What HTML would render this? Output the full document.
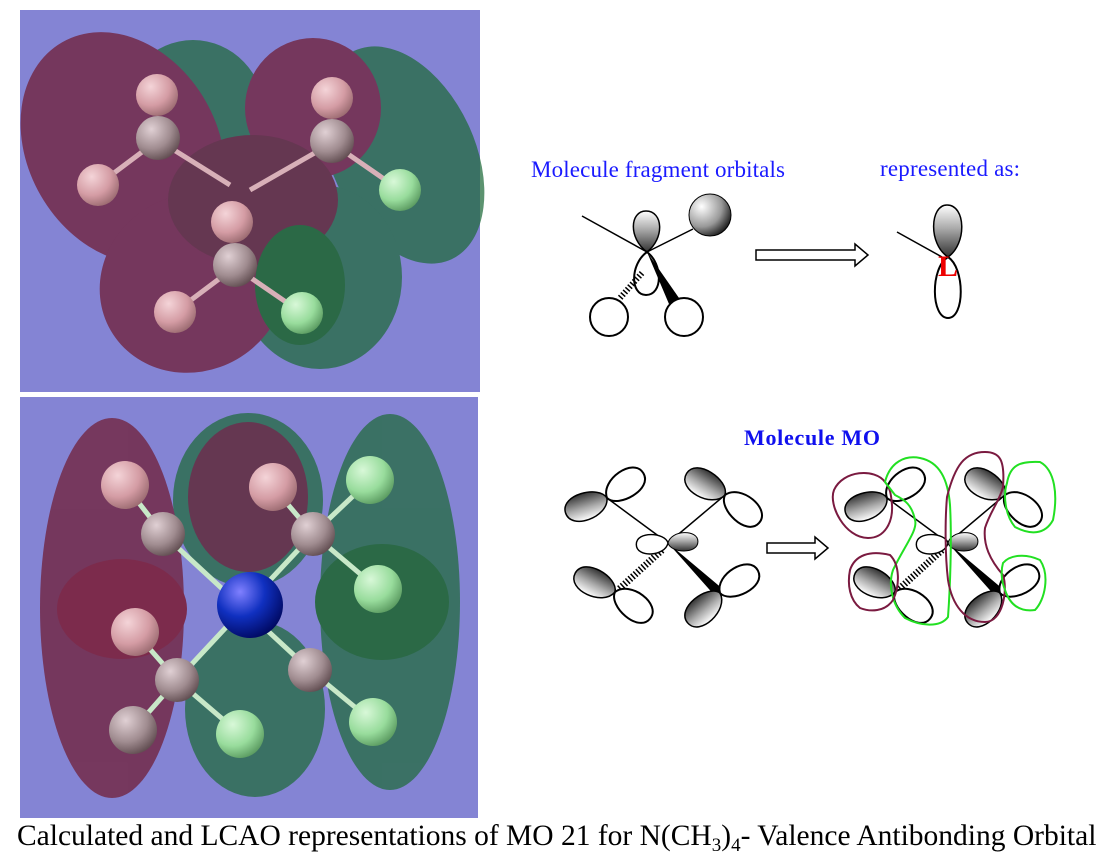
<!DOCTYPE html>
<html><head><meta charset="utf-8"><style>
html,body{margin:0;padding:0;background:#fff;}
svg{display:block;}
</style></head><body>
<svg width="1115" height="863" viewBox="0 0 1115 863" xmlns="http://www.w3.org/2000/svg">
<defs>
<radialGradient id="hp" cx="0.35" cy="0.3" r="0.75"><stop offset="0" stop-color="#f4d4d8"/><stop offset="0.6" stop-color="#d49ca4"/><stop offset="1" stop-color="#9a6a70"/></radialGradient>
<radialGradient id="hg" cx="0.35" cy="0.3" r="0.75"><stop offset="0" stop-color="#d8f8d8"/><stop offset="0.6" stop-color="#98dc9c"/><stop offset="1" stop-color="#5a9a60"/></radialGradient>
<radialGradient id="cg" cx="0.35" cy="0.3" r="0.75"><stop offset="0" stop-color="#e0d0d4"/><stop offset="0.6" stop-color="#a08c90"/><stop offset="1" stop-color="#604c50"/></radialGradient>
<radialGradient id="ng" cx="0.35" cy="0.3" r="0.75"><stop offset="0" stop-color="#8080ff"/><stop offset="0.5" stop-color="#1030c0"/><stop offset="1" stop-color="#000860"/></radialGradient>
<radialGradient id="sph" cx="0.3" cy="0.3" r="0.8"><stop offset="0" stop-color="#fff"/><stop offset="0.6" stop-color="#999"/><stop offset="1" stop-color="#111"/></radialGradient>
<linearGradient id="lob" x1="0" y1="0" x2="0" y2="1"><stop offset="0" stop-color="#fff"/><stop offset="0.45" stop-color="#aaa"/><stop offset="1" stop-color="#333"/></linearGradient>
<path id="sl" d="M0,0 C4,-19 44,-21 44,-2 C44,17 4,15 0,0Z" fill="url(#lob)" stroke="#000" stroke-width="1.5"/>
<path id="ol" d="M0,0 C4,-19 44,-21 44,-2 C44,17 4,15 0,0Z" fill="#fff" stroke="#000" stroke-width="2"/>
</defs>
<rect width="1115" height="863" fill="#fff"/>
<!-- top panel -->
<rect x="20" y="10" width="460" height="382" fill="#8484d4"/>
<g opacity="0.72">
<ellipse cx="193" cy="115" rx="72" ry="75" fill="#1e6a3a"/>
<ellipse cx="403" cy="155" rx="72" ry="115" transform="rotate(-25 403 155)" fill="#1e6a3a"/>
<ellipse cx="320" cy="277" rx="82" ry="92" fill="#1e6a3a"/>
<ellipse cx="123" cy="148" rx="95" ry="122" transform="rotate(-30 123 148)" fill="#701a30"/>
<ellipse cx="313" cy="108" rx="68" ry="70" fill="#701a30"/>
<ellipse cx="193" cy="283" rx="95" ry="88" transform="rotate(-30 193 283)" fill="#701a30"/>
<ellipse cx="253" cy="200" rx="85" ry="65" fill="#5a1a20"/>
<ellipse cx="300" cy="285" rx="45" ry="60" fill="#0a6010"/>
</g>
<g stroke="#d8b0b8" stroke-width="5">
<line x1="158" y1="140" x2="98" y2="185"/><line x1="332" y1="143" x2="250" y2="190"/><line x1="235" y1="267" x2="175" y2="312"/><line x1="235" y1="267" x2="302" y2="313"/><line x1="332" y1="143" x2="400" y2="190"/><line x1="158" y1="140" x2="230" y2="185"/>
</g>
<circle cx="158" cy="138" r="22" fill="url(#cg)"/><circle cx="332" cy="141" r="22" fill="url(#cg)"/><circle cx="235" cy="265" r="22" fill="url(#cg)"/>
<circle cx="157" cy="95" r="21" fill="url(#hp)"/><circle cx="98" cy="185" r="21" fill="url(#hp)"/><circle cx="332" cy="98" r="21" fill="url(#hp)"/><circle cx="232" cy="222" r="21" fill="url(#hp)"/><circle cx="175" cy="312" r="21" fill="url(#hp)"/>
<circle cx="400" cy="190" r="21" fill="url(#hg)"/><circle cx="302" cy="313" r="21" fill="url(#hg)"/>
<!-- bottom panel -->
<rect x="20" y="397" width="458" height="421" fill="#8484d4"/>
<g opacity="0.72">
<ellipse cx="248" cy="500" rx="75" ry="87" fill="#1e6a3a"/>
<ellipse cx="390" cy="602" rx="70" ry="188" fill="#1e6a3a"/>
<ellipse cx="255" cy="709" rx="70" ry="88" fill="#1e6a3a"/>
<ellipse cx="382" cy="602" rx="67" ry="58" fill="#0a6010"/>
<ellipse cx="112" cy="608" rx="72" ry="190" fill="#701a30"/>
<ellipse cx="248" cy="497" rx="60" ry="75" fill="#5a1a20"/>
<ellipse cx="122" cy="609" rx="65" ry="50" fill="#7a0a18"/>
</g>
<g stroke="#c8e8c8" stroke-width="5">
<line x1="163" y1="534" x2="125" y2="485"/><line x1="313" y1="534" x2="273" y2="487"/><line x1="313" y1="534" x2="370" y2="480"/><line x1="313" y1="534" x2="378" y2="589"/><line x1="177" y1="680" x2="135" y2="632"/><line x1="177" y1="680" x2="133" y2="730"/><line x1="177" y1="680" x2="240" y2="734"/><line x1="310" y1="670" x2="373" y2="722"/><line x1="163" y1="534" x2="310" y2="670"/><line x1="313" y1="534" x2="177" y2="680"/>
</g>
<circle cx="163" cy="534" r="22" fill="url(#cg)"/><circle cx="313" cy="534" r="22" fill="url(#cg)"/><circle cx="177" cy="680" r="22" fill="url(#cg)"/><circle cx="310" cy="670" r="22" fill="url(#cg)"/>
<circle cx="250" cy="605" r="33" fill="url(#ng)"/>
<circle cx="125" cy="485" r="24" fill="url(#hp)"/><circle cx="273" cy="487" r="24" fill="url(#hp)"/><circle cx="135" cy="632" r="24" fill="url(#hp)"/><circle cx="133" cy="730" r="24" fill="url(#cg)"/>
<circle cx="370" cy="480" r="24" fill="url(#hg)"/><circle cx="378" cy="589" r="24" fill="url(#hg)"/><circle cx="240" cy="734" r="24" fill="url(#hg)"/><circle cx="373" cy="722" r="24" fill="url(#hg)"/>
<!-- fragment orbitals -->
<g font-family="Liberation Serif, serif" fill="#1a1aff">
<text x="531" y="177" font-size="23" textLength="254">Molecule fragment orbitals</text>
<text x="880" y="176" font-size="23" textLength="140">represented as:</text>
<text x="744" y="445" font-size="22" font-weight="bold" textLength="136" fill="#1010ee">Molecule MO</text>
</g>
<g stroke="#000" stroke-width="1.5" fill="none">
<line x1="582" y1="216" x2="647" y2="252"/><line x1="647" y1="252" x2="693" y2="229"/>
<path d="M647,252 C628,238 630,211 646,211 C663,211 665,238 647,252Z" fill="url(#lob)"/>
<path d="M647,252 C630,264 630,295 646,295 C663,295 663,264 647,252Z" fill="#fff" stroke-width="2"/>
<circle cx="609" cy="317" r="19" stroke-width="2" fill="#fff"/><circle cx="684" cy="317" r="19" stroke-width="2" fill="#fff"/>
<line x1="642" y1="273" x2="620" y2="298" stroke-width="6" stroke-dasharray="1.5 2"/>
</g>
<polygon points="647,252 679,298 669,304" fill="#000"/>
<circle cx="710" cy="215" r="21" fill="url(#sph)" stroke="#000" stroke-width="1"/>
<path d="M756,250 L855,250 L855,244 L868,255 L855,266 L855,260 L756,260Z" fill="#fff" stroke="#000" stroke-width="1.5"/>
<g stroke="#000" stroke-width="1.5">
<line x1="897" y1="232" x2="942" y2="257"/>
<path d="M948,257 C928,244 930,205 947,205 C966,205 967,244 948,257Z" fill="url(#lob)"/>
<path d="M948,257 C930,268 931,318 948,318 C965,318 965,268 948,257Z" fill="#fff" stroke-width="2"/>
</g>
<text x="948" y="276" font-family="Liberation Serif, serif" font-size="30" font-weight="bold" fill="#e00" text-anchor="middle">L</text>
<!-- MO diagrams -->
<g id="mo">
<g stroke="#000" stroke-width="1.5">
<line x1="607" y1="498" x2="668" y2="543"/><line x1="725" y1="495" x2="668" y2="543"/>
<line x1="662" y1="550" x2="618" y2="590" stroke-width="7" stroke-dasharray="1.5 2"/>
</g>
<polygon points="668,543 724,590 716,597" fill="#000"/>
<use href="#sl" transform="translate(607,498) rotate(163)"/><use href="#ol" transform="translate(607,498) rotate(-32)"/>
<use href="#sl" transform="translate(725,495) rotate(212)"/><use href="#ol" transform="translate(725,495) rotate(42)"/>
<use href="#sl" transform="translate(615,592) rotate(208)"/><use href="#ol" transform="translate(615,592) rotate(40)"/>
<use href="#sl" transform="translate(720,593) rotate(140)"/><use href="#ol" transform="translate(720,593) rotate(-28)"/>
<use href="#ol" transform="translate(668,543) rotate(180) scale(0.72)"/><use href="#sl" transform="translate(668,543) scale(0.68)"/>
</g>
<use href="#mo" transform="translate(280,0)"/>
<path d="M767,543 L815,543 L815,537 L828,548 L815,559 L815,553 L767,553Z" fill="#fff" stroke="#000" stroke-width="1.5"/>
<g fill="none" stroke-width="2" stroke-linejoin="round">
<path d="M885,482 C875,468 843,470 834,490 C828,505 845,538 868,538 C885,538 893,522 892,505 C891,493 890,488 885,482Z" stroke="#7a1a40"/>
<path d="M885,482 C890,462 905,455 920,458 C940,462 948,480 950,505 C952,540 950,590 948,617 C940,628 920,626 905,618 C892,605 888,585 893,570 C905,545 918,530 915,520 C912,505 905,500 895,495Z" stroke="#22e022"/>
<path d="M947,497 C955,465 965,452 985,452 C1000,452 1005,460 1003,487 C1000,500 990,512 985,528 C983,545 990,560 1003,575 C1008,590 1003,622 985,622 C965,622 952,605 948,580 C945,555 945,520 947,497Z" stroke="#7a1a40"/>
<path d="M850,570 C855,555 870,550 890,555 C900,565 900,585 893,600 C885,612 870,612 860,608 C850,600 847,585 850,570Z" stroke="#7a1a40"/>
<path d="M1007,483 C1010,465 1020,461 1040,462 C1055,470 1058,495 1053,520 C1045,535 1030,535 1015,527 C1005,515 1003,495 1007,483Z" stroke="#22e022"/>
<path d="M1003,563 C1010,555 1025,553 1040,560 C1050,575 1045,600 1035,610 C1020,612 1010,605 1005,590 C1001,580 1001,570 1003,563Z" stroke="#22e022"/>
</g>
<!-- caption -->
<text x="17" y="845" font-family="Liberation Serif, serif" font-size="29.5" fill="#000">Calculated and LCAO representations of MO 21 for N(CH<tspan font-size="19" dy="6">3</tspan><tspan dy="-6">)</tspan><tspan font-size="19" dy="6">4</tspan><tspan dy="-6">- Valence Antibonding Orbital</tspan></text>
</svg>
</body></html>
